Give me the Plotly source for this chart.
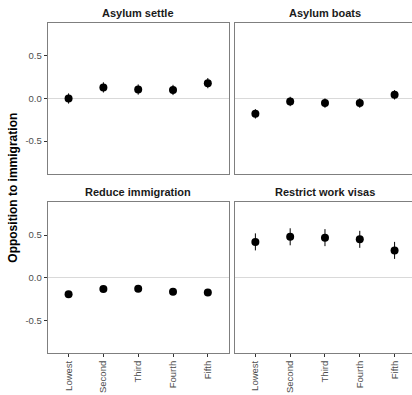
import plotly.graph_objects as go

categories = ["Lowest", "Second", "Third", "Fourth", "Fifth"]
panel_titles = ["Asylum settle", "Asylum boats", "Reduce immigration", "Restrict work visas"]

asylum_settle = [0.00, 0.13, 0.105, 0.10, 0.18]
asylum_settle_ci = [0.06, 0.06, 0.06, 0.06, 0.06]
asylum_boats = [-0.18, -0.035, -0.054, -0.054, 0.043]
asylum_boats_ci = [0.055, 0.055, 0.055, 0.055, 0.055]
reduce_imm = [-0.195, -0.133, -0.13, -0.165, -0.175]
reduce_imm_ci = [0.02, 0.02, 0.02, 0.02, 0.02]
work_visas = [0.42, 0.48, 0.47, 0.45, 0.32]
work_visas_ci = [0.10, 0.10, 0.10, 0.10, 0.10]

y_ticks = [-0.5, 0.0, 0.5]
y_tick_text = ["-0.5", "0.0", "0.5"]

W, H = 412, 395
FONT = "Liberation Sans, Arial, sans-serif"

series = [(asylum_settle, asylum_settle_ci), (asylum_boats, asylum_boats_ci),
          (reduce_imm, reduce_imm_ci), (work_visas, work_visas_ci)]

fig = go.Figure()
for i, (vals, ci) in enumerate(series):
    sfx = "" if i == 0 else str(i + 1)
    fig.add_trace(go.Scatter(
        x=categories, y=vals, mode="markers",
        marker=dict(color="black", size=8),
        error_y=dict(type="data", array=ci, color="black", thickness=1, width=0),
        xaxis="x" + sfx, yaxis="y" + sfx, showlegend=False, cliponaxis=False))

def px_x(p):
    return p / W

def px_y(p):
    return (H - p) / H

left_dom = [px_x(47.7), px_x(228.7)]
right_dom = [px_x(234.5), 1.0]
top_dom = [px_y(174), px_y(23)]
bot_dom = [px_y(353), px_y(202.3)]

yr = [-0.885, 0.885]
tickfont = dict(family=FONT, size=9.5, color="#4d4d4d")
border = "#7f7f7f"

layout = dict(
    width=W, height=H, margin=dict(l=0, r=0, t=0, b=0),
    paper_bgcolor="white", plot_bgcolor="white",
    font=dict(family=FONT),
)

doms = [(left_dom, top_dom), (right_dom, top_dom), (left_dom, bot_dom), (right_dom, bot_dom)]
for i, (xd, yd) in enumerate(doms):
    sfx = "" if i == 0 else str(i + 1)
    is_left = i in (0, 2)
    is_bottom = i in (2, 3)
    xrange_ = [-0.6, 4.6] if is_left else [-0.6, -0.6 + (412 - 234.5) / 34.8]
    layout["xaxis" + sfx] = dict(
        domain=xd, anchor="y" + sfx, type="category",
        categoryorder="array", categoryarray=categories,
        range=xrange_, showgrid=False, zeroline=False,
        showline=True, linecolor=border, linewidth=1, mirror=True,
        showticklabels=is_bottom, ticks="outside" if is_bottom else "",
        ticklen=3, tickcolor="#333333", tickwidth=1,
        tickangle=-90, tickfont=tickfont, automargin=False, fixedrange=True)
    layout["yaxis" + sfx] = dict(
        domain=yd, anchor="x" + sfx, range=yr,
        tickvals=y_ticks, ticktext=y_tick_text,
        showgrid=False, zeroline=True, zerolinecolor="#d9d9d9", zerolinewidth=1.2,
        showline=True, linecolor=border, linewidth=1, mirror=is_left,
        showticklabels=is_left, ticks="outside" if is_left else "",
        ticklen=3, tickcolor="#333333", tickwidth=1,
        tickfont=tickfont, automargin=False, fixedrange=True)

annotations = []
for i, t in enumerate(panel_titles):
    xd = doms[i][0]
    yp = px_y(13.3) if i < 2 else px_y(192.3)
    right_edge = xd[1] if i % 2 == 0 else px_x(415)
    annotations.append(dict(
        text="<b>" + t + "</b>", x=(xd[0] + right_edge) / 2,
        y=yp, xref="paper", yref="paper", showarrow=False,
        xanchor="center", yanchor="middle",
        font=dict(family=FONT, size=11, color="#1a1a1a")))
annotations.append(dict(
    text="<b>Opposition to immigration</b>", x=px_x(12.7), y=px_y(188),
    xref="paper", yref="paper", showarrow=False, textangle=-90,
    xanchor="center", yanchor="middle",
    font=dict(family=FONT, size=12, color="black")))
layout["annotations"] = annotations

fig.update_layout(**layout)
fig.write_html(
    "out.html",
    config=dict(displayModeBar=False),
    post_script="document.body.style.margin='0';document.body.style.overflow='hidden';",
)
